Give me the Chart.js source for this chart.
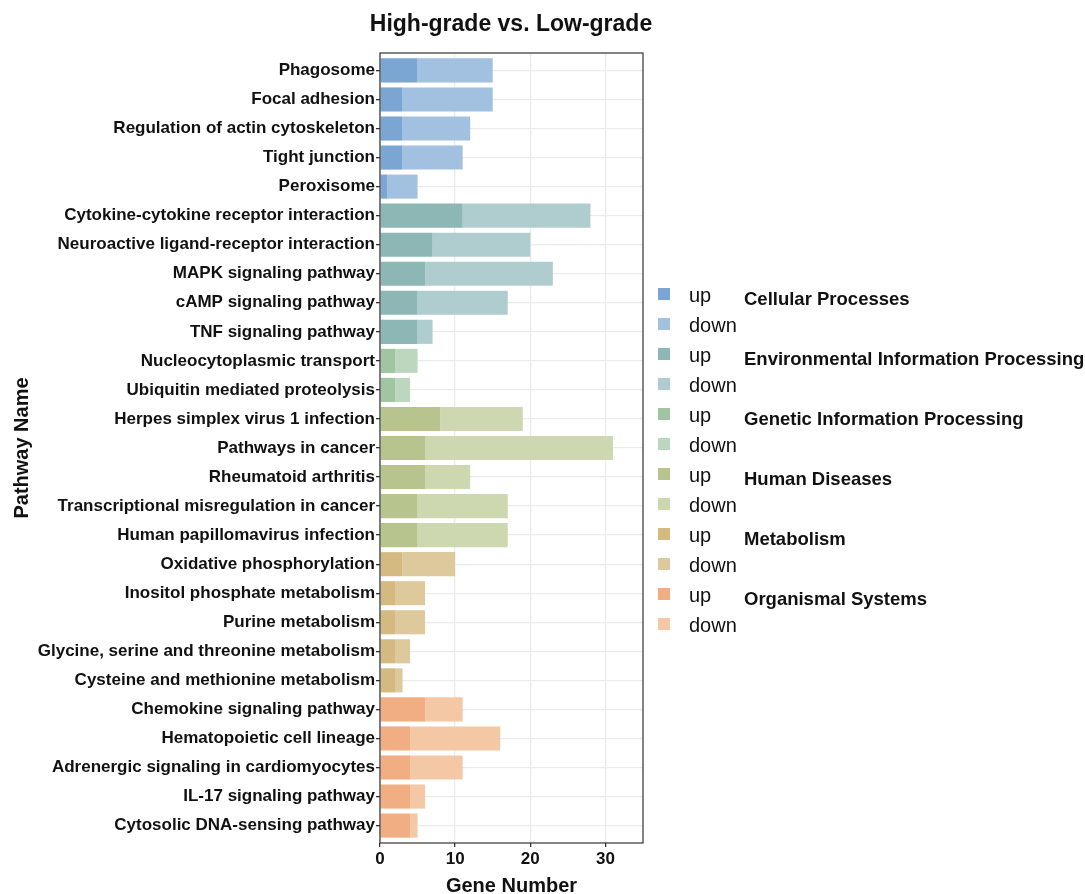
<!DOCTYPE html>
<html>
<head>
<meta charset="utf-8">
<script src="https://cdn.jsdelivr.net/npm/chart.js@4.4.1/dist/chart.umd.min.js"></script>
<style>
  body { margin: 0; background: #fff; font-family: "Liberation Sans", Arial, sans-serif; }
  .wrap { position: relative; width: 1085px; height: 894px; }
  #myChart { position: absolute; left: 0; top: 0; }
  .title { position: absolute; left: 311px; width: 400px; top: 10px; text-align: center;
           font-size: 23px; font-weight: bold; color: #111; white-space: nowrap; }
  .legend { position: absolute; left: 656px; top: 287px; }
  .row { position: relative; height: 30px; }
  .box { position: absolute; left: 2px; top: 1px; width: 12px; height: 12px; }
  .ud { position: absolute; left: 33px; top: -3px; font-size: 20px; color: #111; }
  .grp { position: absolute; left: 88px; top: 1px; font-size: 18.5px; font-weight: bold; color: #111; white-space: nowrap; }
</style>
</head>
<body>
<div class="wrap">
  <canvas id="myChart" width="1085" height="894"></canvas>
  <div class="title">High-grade vs. Low-grade</div>
  <div class="legend" id="legend"></div>
</div>
<script>
"use strict"

const pathways = [
    'Phagosome',
    'Focal adhesion',
    'Regulation of actin cytoskeleton',
    'Tight junction',
    'Peroxisome',
    'Cytokine-cytokine receptor interaction',
    'Neuroactive ligand-receptor interaction',
    'MAPK signaling pathway',
    'cAMP signaling pathway',
    'TNF signaling pathway',
    'Nucleocytoplasmic transport',
    'Ubiquitin mediated proteolysis',
    'Herpes simplex virus 1 infection',
    'Pathways in cancer',
    'Rheumatoid arthritis',
    'Transcriptional misregulation in cancer',
    'Human papillomavirus infection',
    'Oxidative phosphorylation',
    'Inositol phosphate metabolism',
    'Purine metabolism',
    'Glycine, serine and threonine metabolism',
    'Cysteine and methionine metabolism',
    'Chemokine signaling pathway',
    'Hematopoietic cell lineage',
    'Adrenergic signaling in cardiomyocytes',
    'IL-17 signaling pathway',
    'Cytosolic DNA-sensing pathway',
]
const pathwayGroup = [0,0,0,0,0, 1,1,1,1,1, 2,2, 3,3,3,3,3, 4,4,4,4,4, 5,5,5,5,5]
const upCounts   = [5,3,3,3,1, 11,7,6,5,5, 2,2, 8,6,6,5,5, 3,2,2,2,2, 6,4,4,4,4]
const downCounts = [10,12,9,8,4, 17,13,17,12,2, 3,2, 11,25,6,12,12, 7,4,4,2,1, 5,12,7,2,1]
const groupNames = [
    'Cellular Processes',
    'Environmental Information Processing',
    'Genetic Information Processing',
    'Human Diseases',
    'Metabolism',
    'Organismal Systems',
]
const xTicks = [0, 10, 20, 30]

// colours per group: [up, down]
const groupColors = [
    ['#7ba6d3', '#a2c1e1'],
    ['#8db7b5', '#afcdce'],
    ['#a0c5a0', '#bcd7bd'],
    ['#b7c48e', '#cdd8b1'],
    ['#d4ba80', '#dec99c'],
    ['#f0ae82', '#f5c8a5'],
]

Chart.defaults.font.family = '"Liberation Sans", Arial, sans-serif';
Chart.defaults.color = '#111';

const panelBorder = {
    id: 'panelBorder',
    afterDraw(chart) {
        const a = chart.chartArea;
        const ctx = chart.ctx;
        ctx.save();
        ctx.strokeStyle = '#333';
        ctx.lineWidth = 1.2;
        ctx.strokeRect(a.left, a.top, a.right - a.left, a.bottom - a.top);
        ctx.restore();
    }
};

// pathways sit on a numeric index axis so the ends get ggplot's 0.6 padding
const data = {
    datasets: [{
        label: 'up',
        data: upCounts.map((v, i) => ({ x: v, y: i })),
        backgroundColor: pathwayGroup.map(g => groupColors[g][0]),
        borderWidth: 0,
    }, {
        label: 'down',
        data: downCounts.map((v, i) => ({ x: v, y: i })),
        backgroundColor: pathwayGroup.map(g => groupColors[g][1]),
        borderWidth: 0,
    }]
}

let theChart = new Chart(document.getElementById('myChart'), {
    type: 'bar',
    data: data,
    plugins: [panelBorder],
    options: {
        indexAxis: 'y',
        responsive: false,
        animation: false,
        layout: { padding: { left: 0, right: 442, top: 53, bottom: 0 } },
        categoryPercentage: 1,
        barPercentage: 0.83,
        scales: {
            x: {
                type: 'linear',
                stacked: true,
                min: 0,
                max: 35,
                afterBuildTicks: (scale) => { scale.ticks = xTicks.map(v => ({ value: v })); },
                afterFit: (scale) => { scale.height = 51; },
                grid: { color: '#ebebeb', lineWidth: 1.3, tickColor: '#333', tickLength: 4 },
                border: { display: false },
                ticks: { font: { size: 17, weight: 'bold' }, color: '#111', padding: 2 },
                title: {
                    display: true,
                    text: 'Gene Number',
                    font: { size: 20, weight: 'bold' },
                    color: '#111',
                    padding: { top: 0, bottom: -4 },
                },
            },
            y: {
                type: 'linear',
                stacked: true,
                reverse: true,
                offset: false,
                min: -0.6,
                max: pathways.length - 1 + 0.6,
                afterBuildTicks: (scale) => { scale.ticks = pathways.map((p, i) => ({ value: i })); },
                afterFit: (scale) => { scale.width = 380; },
                grid: { color: '#ebebeb', lineWidth: 1.3, tickColor: '#333', tickLength: 4, offset: false },
                border: { display: false },
                ticks: {
                    font: { size: 17, weight: 'bold' },
                    color: '#111',
                    padding: 1,
                    autoSkip: false,
                    callback: (v) => pathways[v],
                },
                title: {
                    display: true,
                    text: 'Pathway Name',
                    font: { size: 20, weight: 'bold' },
                    color: '#111',
                    padding: { top: 10, bottom: 0 },
                },
            },
        },
        plugins: {
            legend: { display: false },
            tooltip: { enabled: false },
        },
    }
});

// legend on the right
let legendBox = document.getElementById('legend');
groupNames.forEach((name, g) => {
    ['up', 'down'].forEach((dir, k) => {
        let row = document.createElement('div');
        row.className = 'row';
        row.innerHTML = `<div class="box" style="background:${groupColors[g][k]}"></div>` +
            `<div class="ud">${dir}</div>` +
            (k === 0 ? `<div class="grp">${name}</div>` : '');
        legendBox.appendChild(row);
    });
});
</script>
</body>
</html>
